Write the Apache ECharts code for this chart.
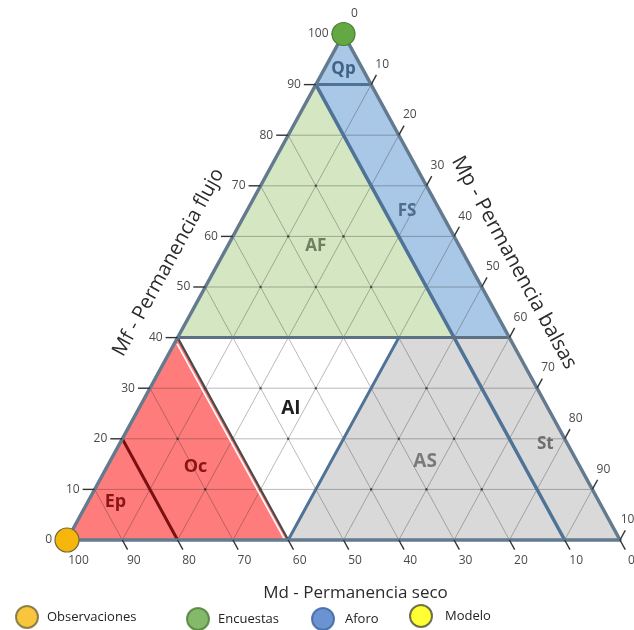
<!DOCTYPE html>
<html><head><meta charset="utf-8">
<script src="https://cdn.jsdelivr.net/npm/echarts@6/dist/echarts.min.js"></script>
<style>html,body{margin:0;padding:0;background:#fff}#c{width:634px;height:630px}</style>
</head><body><div id="c"></div>
<script>
// Ternary coordinates: each vertex is [Mf, Md]; Mp = 100 - Mf - Md
const mfTicks = [0,10,20,30,40,50,60,70,80,90,100];
const mdTicks = [100,90,80,70,60,50,40,30,20,10,0];
const mpTicks = [0,10,20,30,40,50,60,70,80,90,100];
const gridSteps = [10,20,30,40,50,60,70,80,90];

const regionNames = ['Qp','FS','AF','AI','AS','St','Oc','Ep'];
const regionVerts = {
  Qp: [[100,0],[90,10],[90,0]],
  FS: [[90,10],[90,0],[40,0],[40,10]],
  AF: [[90,10],[40,10],[40,60]],
  AI: [[40,60],[40,20],[0,60]],
  AS: [[40,20],[40,10],[0,10],[0,60]],
  St: [[40,10],[40,0],[0,0],[0,10]],
  Oc: [[40,60],[0,60],[0,100]],
  Ep: [[20,80],[0,80],[0,100]]
};
const regionLabelAt = {Qp:[93,3.5], FS:[65,6], AF:[58,26], AI:[26,46.5], AS:[15.5,27.5], St:[19,4], Oc:[14.5,69.5], Ep:[7.5,87.5]};

// class boundaries: [[Mf,Md],[Mf,Md]]
const boundaryNames = ['qp','fs','h40','as','oc','ep'];
const boundaryLines = {
  qp: [[90,10],[90,0]],
  fs: [[90,10],[0,10]],
  h40: [[40,60],[40,0]],
  as: [[40,20],[0,60]],
  oc: [[40,60],[0,60]],
  ep: [[20,80],[0,80]]
};

// point groups, [Mf, Md]
const observaciones = [[0,100]];
const encuestas = [[100,0]];
const aforo = [];
const modelo = [];

// ---- styles ----
const regionFill = {Qp:'#a9c7e6',FS:'#a9c7e6',AF:'#d4e6c2',AI:'#ffffff',AS:'#d9d9d9',St:'#d9d9d9',Oc:'#ff7c7c',Ep:'#ff7c7c'};
const regionText = {
  Qp:{c:'#3f6285',s:17}, FS:{c:'#4d6d8c',s:17}, AF:{c:'#6f7f5f',s:17}, AI:{c:'#1e1e1e',s:19},
  AS:{c:'#7a7a7a',s:19}, St:{c:'#6e6e6e',s:17}, Oc:{c:'#8b1414',s:18}, Ep:{c:'#8b1414',s:18}
};
const boundaryStyle = {
  qp:{c:'#4f7396',w:3}, fs:{c:'#4f7396',w:3.5}, h40:{c:'#5d7084',w:3},
  as:{c:'#4f7396',w:3}, oc:{c:'#4a4a4a',w:2.2}, ep:{c:'#7a1010',w:3}
};
const pointStyle = {
  Observaciones:{fill:'#f6b60c', stroke:'#6f6a3a', r:12},
  Encuestas:{fill:'#64a844', stroke:'#4b7d36', r:11.5},
  Aforo:{fill:'#4778c6', stroke:'#3b62a3', r:11},
  Modelo:{fill:'#ffff00', stroke:'#4d4d3a', r:11}
};
const FONT = '"Open Sans", "Noto Sans", sans-serif';

function tern(f, d){ const p = 100 - f - d; return [p + f/2, f]; }

function regionSeries(){
  return {
    type:'custom', coordinateSystem:'cartesian2d', clip:false, silent:true, z:1,
    data: regionNames.map((n,i)=>[i,0]),
    renderItem(params, api){
      const n = regionNames[params.dataIndex];
      const pts = regionVerts[n].map(v => api.coord(tern(v[0], v[1])));
      return {type:'polygon', shape:{points:pts}, style:{fill:regionFill[n]}};
    }
  };
}

function gridSeries(){
  return {
    type:'custom', coordinateSystem:'cartesian2d', clip:false, silent:true, z:2,
    data:[[0,0]],
    renderItem(params, api){
      const ch = [];
      const st = {stroke:'rgba(40,40,40,0.32)', lineWidth:1};
      const seg = (a,b)=>{ const p1 = api.coord(tern(a[0],a[1])), p2 = api.coord(tern(b[0],b[1]));
        ch.push({type:'line', shape:{x1:p1[0],y1:p1[1],x2:p2[0],y2:p2[1]}, style:st}); };
      gridSteps.forEach(k=>{
        seg([k,100-k],[k,0]);
        seg([0,k],[100-k,k]);
        seg([0,100-k],[100-k,0]);
      });
      gridSteps.forEach(f=>{
        gridSteps.forEach(d=>{
          if (f + d < 100) {
            const c = api.coord(tern(f,d));
            ch.push({type:'circle', shape:{cx:c[0],cy:c[1],r:1.3}, style:{fill:'rgba(20,20,20,0.55)'}});
          }
        });
      });
      return {type:'group', children:ch};
    }
  };
}

function boundarySeries(){
  return {
    type:'custom', coordinateSystem:'cartesian2d', clip:false, silent:true, z:3,
    data: boundaryNames.map((n,i)=>[i,0]),
    renderItem(params, api){
      const n = boundaryNames[params.dataIndex];
      const L = boundaryLines[n];
      const p1 = api.coord(tern(L[0][0],L[0][1])), p2 = api.coord(tern(L[1][0],L[1][1]));
      const line = {type:'line', shape:{x1:p1[0],y1:p1[1],x2:p2[0],y2:p2[1]},
        style:{stroke:boundaryStyle[n].c, lineWidth:boundaryStyle[n].w, lineCap:'round'}};
      if (n === 'oc') {
        const dx = p2[0]-p1[0], dy = p2[1]-p1[1], l = Math.hypot(dx,dy);
        const nx = -dy/l, ny = dx/l;
        const o = 2.8;
        return {type:'group', children:[
          {type:'line', shape:{x1:p1[0]+nx*o+2,y1:p1[1]+ny*o+5,x2:p2[0]+nx*o,y2:p2[1]+ny*o}, style:{stroke:'#ffffff', lineWidth:1.6}},
          line]};
      }
      return line;
    }
  };
}

function frameSeries(){
  return {
    type:'custom', coordinateSystem:'cartesian2d', clip:false, silent:true, z:4,
    data:[[0,0]],
    renderItem(params, api){
      const A = api.coord(tern(0,100)), B = api.coord(tern(0,0)), C = api.coord(tern(100,0));
      const ch = [{type:'polygon', shape:{points:[A,B,C]}, style:{fill:null, stroke:'#637a8f', lineWidth:3.5, lineJoin:'round'}}];
      const unit = (a,b)=>{const dx=b[0]-a[0], dy=b[1]-a[1], l=Math.hypot(dx,dy); return [dx/l, dy/l];};
      const tickSt = {stroke:'#333', lineWidth:1.4};
      const lblSt = (t, x, y, al)=>({type:'text', x, y, style:{text:String(t), fill:'#4a4a4a', font:'12px '+FONT, align:al, verticalAlign:'middle'}});
      mfTicks.forEach(f=>{
        const c = api.coord(tern(f, 100-f));
        ch.push({type:'line', shape:{x1:c[0]-12,y1:c[1],x2:c[0],y2:c[1]}, style:tickSt});
        ch.push(lblSt(f, c[0]-15, c[1], 'right'));
      });
      const uMd = unit(api.coord(tern(10, 50)), api.coord(tern(0, 50)));
      mdTicks.forEach(d=>{
        const c = api.coord(tern(0, d));
        ch.push({type:'line', shape:{x1:c[0],y1:c[1],x2:c[0]+uMd[0]*11,y2:c[1]+uMd[1]*11}, style:tickSt});
        ch.push(lblSt(d, c[0]+uMd[0]*24, c[1]+uMd[1]*24, 'center'));
      });
      const uMp = unit(api.coord(tern(0, 50)), api.coord(tern(10, 40)));
      mpTicks.forEach(p=>{
        const c = api.coord(tern(100 - p, 0));
        ch.push({type:'line', shape:{x1:c[0],y1:c[1],x2:c[0]+uMp[0]*11,y2:c[1]+uMp[1]*11}, style:tickSt});
        ch.push(lblSt(p, c[0]+uMp[0]*23, c[1]+uMp[1]*23, 'center'));
      });
      regionNames.forEach(n=>{
        const pos = api.coord(tern(regionLabelAt[n][0], regionLabelAt[n][1]));
        ch.push({type:'text', x:pos[0], y:pos[1], style:{text:n, fill:regionText[n].c,
          font:'bold '+regionText[n].s+'px '+FONT, align:'center', verticalAlign:'middle'}});
      });
      const leftDir = unit(A, C);
      const leftN = [leftDir[1], -leftDir[0]];
      const mL = api.coord(tern(50,50));
      const angL = Math.atan2(-leftDir[1], leftDir[0]);
      ch.push({type:'text', x:mL[0]+leftN[0]*44+leftDir[0]*4, y:mL[1]+leftN[1]*44+leftDir[1]*4, rotation:angL,
        style:{text:'Mf - Permanencia flujo', fill:'#2b2b2b', font:'20px '+FONT, align:'center', verticalAlign:'middle'}});
      const rightDir = unit(C, B);
      const rightN = [rightDir[1], -rightDir[0]];
      const mR = api.coord(tern(50,0));
      const angR = Math.atan2(-rightDir[1], rightDir[0]);
      ch.push({type:'text', x:mR[0]+rightN[0]*40-rightDir[0]*6, y:mR[1]+rightN[1]*40-rightDir[1]*6, rotation:angR,
        style:{text:'Mp - Permanencia balsas', fill:'#2b2b2b', font:'20.5px '+FONT, align:'center', verticalAlign:'middle'}});
      const mB = api.coord(tern(0,50));
      ch.push({type:'text', x:mB[0]+12, y:mB[1]+53,
        style:{text:'Md - Permanencia seco', fill:'#2b2b2b', font:'17px '+FONT, align:'center', verticalAlign:'middle'}});
      return {type:'group', children:ch};
    }
  };
}

// points drawn as custom circles through the axes
function pointSeries(name, arr){
  const s = pointStyle[name];
  return {
    type:'custom', coordinateSystem:'cartesian2d', clip:false, silent:true, z:10,
    data: arr.map(v => tern(v[0], v[1])),
    renderItem(params, api){
      const c = api.coord([api.value(0), api.value(1)]);
      return {type:'circle', shape:{cx:c[0], cy:c[1], r:s.r}, style:{fill:s.fill, stroke:s.stroke, lineWidth:1.2}};
    }
  };
}
// legend-only series
function legendSeries(name){
  const s = pointStyle[name];
  return {name, type:'scatter', symbol:'circle', data:[], itemStyle:{color:s.fill, borderColor:s.stroke, borderWidth:1.2}};
}

const legendText = {fontSize:13, fontFamily:FONT, color:'#222'};

const option = {
  backgroundColor:'#ffffff',
  animation:false,
  grid:{left:67, right:14, top:34, bottom:90},
  xAxis:{type:'value', min:0, max:100, show:false},
  yAxis:{type:'value', min:0, max:100, show:false},
  legend:[
    {data:['Observaciones'], left:10, top:600, icon:'circle', itemWidth:22, itemHeight:22, textStyle:Object.assign({padding:[0,0,0,4]}, legendText)},
    {data:['Encuestas'], left:181, top:602, icon:'circle', itemWidth:22, itemHeight:22, textStyle:Object.assign({padding:[0,0,0,4]}, legendText)},
    {data:['Aforo'], left:306, top:602, icon:'circle', itemWidth:22, itemHeight:22, textStyle:Object.assign({padding:[0,0,0,6]}, legendText)},
    {data:['Modelo'], left:404, top:599, icon:'circle', itemWidth:22, itemHeight:22, textStyle:Object.assign({padding:[0,0,0,8]}, legendText)}
  ],
  series:[
    regionSeries(), gridSeries(), boundarySeries(), frameSeries(),
    pointSeries('Observaciones', observaciones), pointSeries('Encuestas', encuestas),
    pointSeries('Aforo', aforo), pointSeries('Modelo', modelo),
    legendSeries('Observaciones'), legendSeries('Encuestas'), legendSeries('Aforo'), legendSeries('Modelo')
  ]
};
echarts.init(document.getElementById('c')).setOption(option);
</script>
</body></html>
